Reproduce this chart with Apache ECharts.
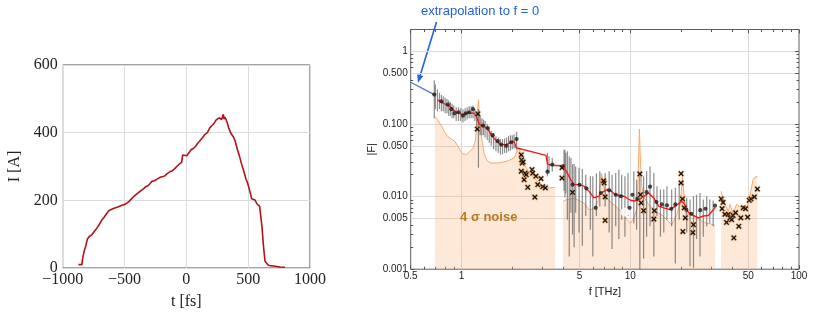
<!DOCTYPE html>
<html>
<head>
<meta charset="utf-8">
<script src="https://cdn.jsdelivr.net/npm/echarts@6.0.0/dist/echarts.min.js"></script>
<style>html,body{margin:0;padding:0;background:#fff;}#chart{width:818px;height:315px;}</style>
</head>
<body>
<div id="chart"></div>
<script>
// ---------------- Left panel: current profile I(t) ----------------
const tTicks = [-1000, -500, 0, 500, 1000];
const iTicks = [0, 200, 400, 600];
const currentProfile = [
  [-873,10],[-845,10],[-840,25],[-833,39],[-825,52],[-815,63],[-800,86],[-785,93],[-765,98],[-745,108],
  [-725,117],[-705,128],[-685,141],[-665,150],[-644,161],[-625,170],[-610,175],[-590,176],[-577,176],[-555,180],
  [-535,183],[-515,186],[-496,188],[-480,190],[-465,196],[-450,202],[-429,210],[-410,216],[-390,222],[-370,228],
  [-348,234],[-330,240],[-310,243],[-295,249],[-280,256],[-260,258],[-240,262],[-213,268],[-195,270],[-175,272],
  [-155,279],[-132,285],[-115,287],[-95,293],[-78,300],[-60,306],[-45,310],[-38,312],[-30,334],[-15,330],
  [3,332],[20,340],[40,350],[57,353],[75,360],[90,368],[110,376],[130,385],[151,395],[170,400],
  [191,415],[210,422],[225,428],[240,437],[255,432],[265,444],[272,449],[280,440],[286,439],[292,447],
  [299,454],[305,440],[312,446],[321,439],[330,430],[342,415],[360,398],[380,388],[395,375],[412,351],
  [430,330],[447,307],[465,285],[482,263],[492,255],[501,244],[515,225],[528,205],[540,200],[555,201],
  [570,190],[582,187],[593,182],[601,178],[612,120],[623,68],[636,20],[650,18],[663,8],[680,7],
  [704,6],[717,4],[760,3],[798,2]
];

// ---------------- Right panel: form factor |F|(f) ----------------
const fTicks = [0.5, 1, 5, 10, 50, 100];
const fGrid = [1, 5, 10, 50];
const fMinor = [0.6,0.7,0.8,0.9,2,3,4,6,7,8,9,20,30,40,60,70,80,90];
const FTicks = [0.001, 0.005, 0.01, 0.05, 0.1, 0.5, 1];
const FTickText = ['0.001', '0.005', '0.010', '0.050', '0.100', '0.500', '1'];
const FGrid = [0.005, 0.01, 0.05, 0.1, 0.5, 1];
const FMinor = [0.002,0.003,0.004,0.006,0.007,0.008,0.009,0.02,0.03,0.04,0.06,0.07,0.08,0.09,0.2,0.3,0.4,0.6,0.7,0.8,0.9,2];

const extrapolation = [[0.5,0.375],[0.69,0.254]];

const noiseSeg1 = [
  [0.695,0.127],[0.72,0.115],[0.744,0.103],[0.77,0.09],[0.79,0.079],[0.83,0.067],[0.87,0.062],[0.91,0.058],
  [0.95,0.05],[0.99,0.042],[1.02,0.0386],[1.07,0.038],[1.12,0.042],[1.17,0.046],[1.21,0.06],[1.235,0.1],
  [1.26,0.216],[1.28,0.12],[1.32,0.061],[1.36,0.04],[1.42,0.031],[1.5,0.029],[1.65,0.029],[1.85,0.0306],
  [2.05,0.034],[2.15,0.044],[2.2,0.047],[2.27,0.034],[2.35,0.028],[2.5,0.022],[2.7,0.018],[2.9,0.015],
  [3.17,0.0132],[3.4,0.0132],[3.59,0.0135]
];
const noiseSeg2 = [
  [4.0,0.0086],[4.15,0.009],[4.4,0.0092],[4.65,0.0096],[4.97,0.0088],[5.3,0.0082],[5.7,0.0066],[6.1,0.0068],
  [6.5,0.009],[6.75,0.021],[7.0,0.013],[7.3,0.0095],[7.8,0.008],[8.2,0.0074],[8.76,0.0063],[9.2,0.0055],
  [10.0,0.0043],[10.5,0.005],[11.0,0.007],[11.2,0.03],[11.33,0.085],[11.5,0.03],[11.7,0.0139],[12.0,0.01],
  [12.85,0.0078],[13.8,0.0065],[15.4,0.0056],[17.6,0.0041],[18.8,0.0055],[19.7,0.008],[20.1,0.012],[20.4,0.021],
  [20.8,0.011],[21.4,0.0055],[22.6,0.0057],[25.3,0.005],[27.5,0.0044],[30.0,0.0042],[31.8,0.004]
];
const noiseSeg3 = [
  [34.5,0.0118],[35.5,0.0095],[36.4,0.0078],[38.1,0.0063],[39.0,0.0078],[40.7,0.0057],[42.6,0.0078],
  [44.6,0.0072],[46.7,0.0075],[48.8,0.0066],[51.1,0.010],[53.4,0.0171],[54.7,0.0186],[56.7,0.0188]
];

const measuredLine = [
  [0.72,0.215],[0.744,0.205],[0.79,0.19],[0.852,0.175],[0.912,0.15],[0.97,0.14],[1.02,0.134],[1.06,0.138],
  [1.093,0.145],[1.13,0.14],[1.169,0.142],[1.21,0.135],[1.251,0.112],[1.28,0.098],[1.31,0.103],[1.34,0.095],
  [1.433,0.084],[1.534,0.066],[1.641,0.056],[1.719,0.052],[1.84,0.052],[1.969,0.056],[2.05,0.058],[2.107,0.047],
  [3.17,0.037],[3.235,0.028],[3.4,0.027],[3.88,0.0266],[4.0,0.026],[4.24,0.021],[4.44,0.017],[4.65,0.0146],
  [4.97,0.0146],[5.32,0.0139],[5.7,0.0118],[6.1,0.0096],[6.24,0.0092],[6.52,0.0101],[6.68,0.0112],[7.3,0.0125],
  [7.6,0.0122],[8.18,0.0106],[9.16,0.0101],[10.03,0.0089],[10.6,0.0087],[11.23,0.0091],[12.0,0.01],[12.85,0.0112],
  [13.76,0.0096],[14.73,0.0074],[15.76,0.007],[17.26,0.0066],[18.47,0.0074],[20.2,0.0086],[20.9,0.008],[22.13,0.006],
  [23.68,0.0055],[25.34,0.0051],[27.12,0.0054],[29.02,0.0055],[31.06,0.0066],[31.78,0.007]
];

const measuredDots = [
  [0.69,0.254],[0.76,0.205],[0.83,0.185],[0.87,0.16],[0.91,0.14],[0.96,0.145],[1.02,0.13],[1.06,0.14],
  [1.11,0.145],[1.17,0.16],[1.34,0.095],[1.43,0.088],[1.53,0.07],[1.64,0.058],[1.72,0.052],[1.84,0.05],
  [1.97,0.056],[2.12,0.062],[3.23,0.022],[3.45,0.0276],[4.0,0.0262],[4.55,0.0146],[5.0,0.0145],[5.5,0.013],
  [6.24,0.007],[6.7,0.0112],[7.5,0.0122],[8.2,0.0106],[8.8,0.0101],[9.9,0.007],[10.3,0.0106],[11.0,0.0093],
  [12.5,0.0115],[13.1,0.0137],[14.3,0.0084],[15.4,0.0078],[16.5,0.0076],[17.5,0.0068],[18.5,0.0078],[21.5,0.0066],
  [23.0,0.0058],[26.0,0.0065],[27.9,0.0068],[31.8,0.0075]
];
const openDots = [[9.3,0.0061]];

// [f, lower, upper]
const errorBars = [
  [0.69,0.12,0.40],[0.70,0.16,0.35],[0.72,0.15,0.30],[0.74,0.16,0.27],[0.76,0.15,0.25],[0.78,0.15,0.24],
  [0.80,0.14,0.23],[0.82,0.14,0.22],[0.84,0.13,0.21],[0.86,0.13,0.20],[0.88,0.12,0.19],[0.90,0.12,0.18],
  [0.93,0.11,0.17],[0.96,0.11,0.17],[0.99,0.11,0.165],[1.02,0.105,0.16],[1.05,0.11,0.165],[1.08,0.115,0.17],
  [1.11,0.12,0.175],[1.14,0.12,0.175],[1.17,0.12,0.18],[1.20,0.11,0.16],[1.23,0.09,0.14],[1.26,0.025,0.16],
  [1.29,0.07,0.13],[1.32,0.07,0.12],[1.35,0.07,0.115],[1.38,0.065,0.11],[1.42,0.06,0.10],[1.46,0.055,0.09],
  [1.50,0.05,0.08],[1.55,0.045,0.075],[1.60,0.042,0.068],[1.65,0.04,0.065],[1.70,0.038,0.062],[1.75,0.038,0.062],
  [1.80,0.04,0.063],[1.85,0.04,0.065],[1.90,0.042,0.068],[1.95,0.043,0.07],[2.00,0.045,0.07],[2.05,0.046,0.072],
  [2.12,0.044,0.078],[3.23,0.019,0.040],[3.30,0.021,0.036],[3.45,0.022,0.034],[4.05,0.012,0.044],[4.10,0.0097,0.044],
  [4.15,0.011,0.040],[4.24,0.0048,0.042],[4.35,0.0015,0.036],[4.45,0.006,0.034],[4.55,0.003,0.028],[4.65,0.002,0.028],
  [4.75,0.006,0.026],[4.97,0.0032,0.025],[5.2,0.0021,0.024],[5.45,0.0054,0.020],[5.8,0.0035,0.019],[6.0,0.0015,0.019],
  [6.3,0.0054,0.021],[6.6,0.0073,0.0223],[7.1,0.0073,0.021],[7.5,0.0032,0.0223],[7.8,0.0019,0.020],[8.2,0.0039,0.0211],
  [8.56,0.0026,0.0235],[8.9,0.0048,0.020],[9.3,0.0028,0.019],[9.7,0.0054,0.0211],[10.5,0.0043,0.0223],[10.9,0.0035,0.0171],
  [11.4,0.001,0.0211],[12.0,0.0014,0.019],[12.5,0.0028,0.0223],[13.1,0.0039,0.026],[13.8,0.0015,0.0211],[14.4,0.0054,0.0139],
  [15.1,0.0028,0.0125],[15.8,0.0032,0.0125],[16.5,0.0048,0.0139],[17.6,0.0039,0.0125],[18.5,0.0012,0.0132],[19.5,0.0048,0.0154],
  [21.6,0.0032,0.0096],[22.6,0.0011,0.0091],[23.7,0.00105,0.0101],[24.7,0.0026,0.0106],[25.9,0.0015,0.0112],[27.1,0.0028,0.0091],
  [28.4,0.0039,0.0101],[29.6,0.0043,0.0091],[31.0,0.0039,0.0088]
];

const rejectedPoints = [
  [1.25,0.138],[1.24,0.085],[2.26,0.0376],[2.27,0.032],[2.29,0.029],[2.32,0.030],[2.26,0.0223],[2.35,0.0171],
  [2.38,0.021],[2.42,0.020],[2.47,0.0134],[2.62,0.0235],[2.64,0.021],[2.76,0.0191],[2.83,0.0146],[2.96,0.0177],
  [3.03,0.0137],[3.14,0.0132],[2.72,0.0098],[3.94,0.018],[3.94,0.025],[4.55,0.0114],[7.0,0.0154],[6.95,0.0165],
  [7.1,0.0099],[7.1,0.0047],[11.4,0.0205],[11.5,0.0106],[11.6,0.0082],[12.0,0.0064],[13.8,0.0049],[13.9,0.0064],
  [20.0,0.0207],[20.0,0.0154],[20.4,0.0093],[20.9,0.007],[21.2,0.0051],[20.5,0.0033],[23.7,0.0041],[23.5,0.0032],
  [34.6,0.0093],[35.5,0.0083],[35.0,0.0068],[36.4,0.0057],[37.2,0.0044],[38.1,0.0057],[39.0,0.0051],[39.9,0.0048],
  [40.7,0.0055],[41.1,0.0027],[42.1,0.006],[44.0,0.0039],[45.2,0.0051],[46.7,0.007],[48.2,0.0068],[49.6,0.0052],
  [50.7,0.0089],[51.9,0.0093],[54.4,0.0099],[56.7,0.0127]
];

// ---------------- Build chart ----------------
const chart = echarts.init(document.getElementById('chart'));
const SANS = 'Liberation Sans';
const SERIF = 'Liberation Serif';
const fMin = fTicks[0], fMax = fTicks[fTicks.length - 1];
const FMin = FTicks[0], FMax = 2;
const GRID_W = 388.3, GRID_H = 239.7;

function fmtMinus(v) { return v < 0 ? '\u2212' + Math.abs(v) : String(v); }
function FLabel(v) {
  for (let i = 0; i < FTicks.length; i++) if (Math.abs(v - FTicks[i]) / FTicks[i] < 1e-6) return FTickText[i];
  return '';
}
function logX(extra) {
  return Object.assign({
    type: 'log', logBase: 10, gridIndex: 1, min: fMin, max: fMax,
    axisLine: { show: false }, axisLabel: { show: false }, axisTick: { show: false },
    splitLine: { show: false }, minorTick: { show: false }, minorSplitLine: { show: false }
  }, extra);
}
function logY(extra) {
  return Object.assign({
    type: 'log', logBase: 10, gridIndex: 1, min: FMin, max: FMax,
    axisLine: { show: false }, axisLabel: { show: false }, axisTick: { show: false },
    splitLine: { show: false }, minorTick: { show: false }, minorSplitLine: { show: false }
  }, extra);
}
const tickLine = { color: '#555', width: 1 };

const option = {
  animation: false,
  textStyle: { fontFamily: SANS },
  grid: [
    { left: 62.7, top: 65, width: 247.3, height: 205, show: true, borderColor: '#4a4a4a', borderWidth: 1, backgroundColor: 'transparent' },
    { left: 410.7, top: 29.5, width: GRID_W, height: GRID_H, show: true, borderColor: '#5e5e5e', borderWidth: 1, backgroundColor: 'transparent' }
  ],
  xAxis: [
    {
      type: 'value', gridIndex: 0, min: tTicks[0], max: tTicks[tTicks.length - 1], interval: 500,
      axisLine: { show: false }, axisTick: { show: false },
      axisLabel: { fontFamily: SERIF, fontSize: 16, color: '#222', margin: 4, formatter: fmtMinus },
      splitLine: { show: true, lineStyle: { color: '#dcdcdc', width: 1 } },
      name: 't [fs]', nameLocation: 'middle', nameGap: 26,
      nameTextStyle: { fontFamily: SERIF, fontSize: 16, color: '#222' }
    },
    logX({
      position: 'bottom',
      axisLabel: { show: true, customValues: fTicks, fontSize: 10, color: '#222', margin: 2.5,
        formatter: v => String(+v.toPrecision(6)) },
      axisTick: { show: true, inside: true, length: 4, customValues: fTicks, lineStyle: tickLine },
      name: 'f [THz]', nameLocation: 'middle', nameGap: 17,
      nameTextStyle: { fontSize: 11, color: '#222' }
    }),
    logX({ position: 'bottom', axisTick: { show: true, inside: true, length: GRID_H, customValues: fGrid, lineStyle: { color: '#dadada', width: 1 } } }),
    logX({ position: 'bottom', axisTick: { show: true, inside: true, length: 2.5, customValues: fMinor, lineStyle: tickLine } }),
    logX({ position: 'top', axisTick: { show: true, inside: true, length: 4, customValues: fTicks, lineStyle: tickLine } }),
    logX({ position: 'top', axisTick: { show: true, inside: true, length: 2.5, customValues: fMinor, lineStyle: tickLine } })
  ],
  yAxis: [
    {
      type: 'value', gridIndex: 0, min: iTicks[0], max: iTicks[iTicks.length - 1], interval: 200,
      axisLine: { show: false }, axisTick: { show: false },
      axisLabel: { fontFamily: SERIF, fontSize: 16, color: '#222', margin: 5 },
      splitLine: { show: true, lineStyle: { color: '#dcdcdc', width: 1 } },
      name: 'I [A]', nameLocation: 'middle', nameGap: 40,
      nameTextStyle: { fontFamily: SERIF, fontSize: 16, color: '#222' }
    },
    logY({
      position: 'left',
      axisLabel: { show: true, customValues: FTicks, fontSize: 10, color: '#222', margin: 3, formatter: FLabel },
      axisTick: { show: true, inside: true, length: 4, customValues: FTicks, lineStyle: tickLine },
      name: '|F|', nameLocation: 'middle', nameGap: 33,
      nameTextStyle: { fontSize: 11, color: '#222' }
    }),
    logY({ position: 'left', axisTick: { show: true, inside: true, length: GRID_W, customValues: FGrid, lineStyle: { color: '#dadada', width: 1 } } }),
    logY({ position: 'left', axisTick: { show: true, inside: true, length: 2.5, customValues: FMinor, lineStyle: tickLine } }),
    logY({ position: 'right', axisTick: { show: true, inside: true, length: 4, customValues: FTicks, lineStyle: tickLine } }),
    logY({ position: 'right', axisTick: { show: true, inside: true, length: 2.5, customValues: FMinor, lineStyle: tickLine } })
  ],
  series: []
};

option.series.push({
  type: 'line', xAxisIndex: 0, yAxisIndex: 0, data: currentProfile, showSymbol: false, symbol: 'none',
  lineStyle: { color: '#b3121b', width: 1.6 }, z: 3
});

[noiseSeg1, noiseSeg2, noiseSeg3].forEach(seg => {
  option.series.push({
    type: 'line', xAxisIndex: 1, yAxisIndex: 1, data: seg, symbol: 'none', showSymbol: false,
    lineStyle: { color: '#f6a96f', width: 1 },
    areaStyle: { color: 'rgba(250,172,110,0.4)', origin: 'start' }, z: 1
  });
});

option.series.push({
  type: 'line', xAxisIndex: 1, yAxisIndex: 1, data: extrapolation, symbol: 'none',
  lineStyle: { color: '#5177c4', width: 1.3 }, z: 2
});

option.series.push({
  type: 'custom', xAxisIndex: 1, yAxisIndex: 1, data: errorBars, z: 3,
  encode: { x: 0, y: [1, 2] },
  renderItem: (params, api) => {
    const a = api.coord([api.value(0), api.value(1)]);
    const b = api.coord([api.value(0), api.value(2)]);
    return { type: 'line', shape: { x1: a[0], y1: a[1], x2: b[0], y2: b[1] },
      style: { stroke: 'rgba(95,95,95,0.72)', lineWidth: 1.2 } };
  }
});

const redIndex = option.series.length;
option.series.push({
  type: 'line', xAxisIndex: 1, yAxisIndex: 1, data: measuredLine, symbol: 'none',
  lineStyle: { color: '#f51c1c', width: 1.4 }, z: 4
});

option.series.push({
  type: 'scatter', xAxisIndex: 1, yAxisIndex: 1, data: measuredDots, symbol: 'circle', symbolSize: 4.2,
  itemStyle: { color: '#1e1e1e' }, z: 5
});
option.series.push({
  type: 'scatter', xAxisIndex: 1, yAxisIndex: 1, data: openDots, symbol: 'emptyCircle', symbolSize: 7,
  itemStyle: { color: '#fff', borderColor: '#666', borderWidth: 1 }, z: 5
});

option.series.push({
  type: 'custom', xAxisIndex: 1, yAxisIndex: 1, data: rejectedPoints, z: 6,
  encode: { x: 0, y: 1 },
  renderItem: (params, api) => {
    const p = api.coord([api.value(0), api.value(1)]);
    const s = 2.2, o = 2.6;
    const mk = (r, stroke, w) => ([
      { type: 'line', shape: { x1: p[0] - r, y1: p[1] - r, x2: p[0] + r, y2: p[1] + r }, style: { stroke, lineWidth: w } },
      { type: 'line', shape: { x1: p[0] - r, y1: p[1] + r, x2: p[0] + r, y2: p[1] - r }, style: { stroke, lineWidth: w } }
    ]);
    return { type: 'group', children: mk(o, 'rgba(215,125,40,0.45)', 2.6).concat(mk(s, '#111', 1.2)) };
  }
});

chart.setOption(option);

// ---------------- annotations ----------------
const finder = { seriesIndex: redIndex };
const tip = chart.convertToPixel(finder, [0.552, 0.37]);
const tail = [436.5, 22];
const dx = tip[0] - tail[0], dy = tip[1] - tail[1];
const len = Math.sqrt(dx * dx + dy * dy);
const ux = dx / len, uy = dy / len;
const hl = 8, hw = 3.2;
const base = [tip[0] - ux * hl, tip[1] - uy * hl];
const noisePos = chart.convertToPixel(finder, [1.45, 0.0052]);

chart.setOption({
  graphic: [
    { type: 'text', left: 421, top: 5, silent: true,
      style: { text: 'extrapolation to f = 0', fill: '#2462dc', font: '13px "Liberation Sans"' } },
    { type: 'line', silent: true, shape: { x1: tail[0], y1: tail[1], x2: base[0], y2: base[1] },
      style: { stroke: '#2462dc', lineWidth: 1.6 } },
    { type: 'polygon', silent: true,
      shape: { points: [tip, [base[0] - uy * hw, base[1] + ux * hw], [base[0] + uy * hw, base[1] - ux * hw]] },
      style: { fill: '#2462dc' } },
    { type: 'text', x: noisePos[0], y: noisePos[1], silent: true, z: 10,
      style: { text: '4 \u03c3 noise', fill: '#b97a22', font: 'bold 13px "Liberation Sans"', align: 'center', verticalAlign: 'middle' } }
  ]
});
</script>
</body>
</html>
